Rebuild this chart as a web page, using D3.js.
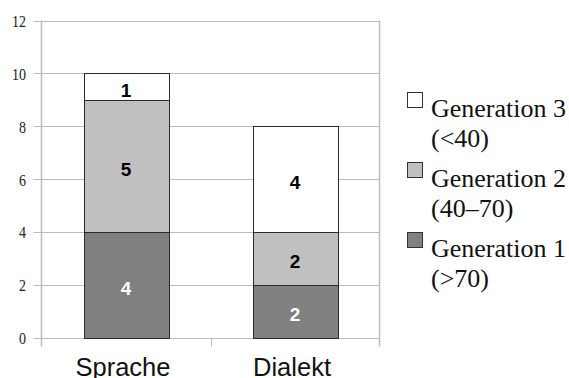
<!DOCTYPE html>
<html>
<head>
<meta charset="utf-8">
<script src="https://cdn.jsdelivr.net/npm/d3@7/dist/d3.min.js"></script>
<style>
  html, body { margin: 0; padding: 0; background: #fff; }
  svg { display: block; }
</style>
</head>
<body>
<svg id="chart" width="569" height="378"></svg>
<script>
// Categories and stacked values per generation
const categories = ["Sprache", "Dialekt"];
const gen1 = [4, 2];   // Generation 1 (>70)
const gen2 = [5, 2];   // Generation 2 (40–70)
const gen3 = [1, 4];   // Generation 3 (<40)
const yTicks = [0, 2, 4, 6, 8, 10, 12];

const seriesNames = ["Generation 1", "Generation 2", "Generation 3"];
const seriesSub = ["(>70)", "(40–70)", "(<40)"];
const fills = ["#808080", "#c0c0c0", "#ffffff"];
const labelColors = ["#ffffff", "#000000", "#000000"];

const svg = d3.select("#chart");
const plotL = 41.5, plotR = 379.5, plotT = 20.5, plotB = 337.5;

const x = d3.scaleBand().domain(categories).range([plotL, plotR]).paddingInner(0).paddingOuter(0);
const y = d3.scaleLinear().domain([0, 12]).range([plotB, plotT]);

// Horizontal grid lines
svg.append("g").selectAll("line").data(yTicks).join("line")
  .attr("x1", plotL - 8).attr("x2", plotR)
  .attr("y1", d => Math.round(y(d)) + 0.5).attr("y2", d => Math.round(y(d)) + 0.5)
  .attr("stroke", "#bdbdbd").attr("stroke-width", 1);

// Left axis line and right frame
svg.append("line").attr("x1", plotL).attr("x2", plotL).attr("y1", plotT).attr("y2", plotB + 9)
  .attr("stroke", "#bdbdbd").attr("stroke-width", 1.5);
svg.append("line").attr("x1", plotR).attr("x2", plotR).attr("y1", plotT).attr("y2", plotB + 9)
  .attr("stroke", "#bdbdbd").attr("stroke-width", 1.5);
// Category separator ticks
svg.append("g").selectAll("line").data(categories.slice(1)).join("line")
  .attr("x1", d => Math.round(x(d)) + 0.5).attr("x2", d => Math.round(x(d)) + 0.5)
  .attr("y1", plotB).attr("y2", plotB + 9).attr("stroke", "#bdbdbd");

// Y tick labels (narrow serif digits)
svg.append("g").selectAll("text").data(yTicks).join("text")
  .attr("x", 26).attr("y", d => y(d) + 6.5)
  .attr("text-anchor", "end")
  .attr("font-family", "'Liberation Serif', 'Times New Roman', serif")
  .attr("font-size", 17).attr("fill", "#222")
  .attr("textLength", d => String(d).length * 7)
  .attr("lengthAdjust", "spacingAndGlyphs")
  .text(d => d);

// Stacked data
const rows = categories.map((c, i) => ({ cat: c, g1: gen1[i], g2: gen2[i], g3: gen3[i] }));
const stack = d3.stack().keys(["g1", "g2", "g3"])(rows);

const barW = 85;
const gBars = svg.append("g");
stack.forEach((layer, li) => {
  layer.forEach(seg => {
    const cx = x(seg.data.cat) + x.bandwidth() / 2;
    const x0 = Math.round(cx - barW / 2) + 0.5;
    const y0 = Math.round(y(seg[1])) + 0.5;
    const y1 = Math.round(y(seg[0])) + 0.5;
    gBars.append("rect")
      .attr("x", x0).attr("y", y0)
      .attr("width", barW).attr("height", y1 - y0)
      .attr("fill", fills[li]).attr("stroke", "#2a2a2a").attr("stroke-width", 1);
    gBars.append("text")
      .attr("x", cx).attr("y", (y(seg[0]) + y(seg[1])) / 2 + 10)
      .attr("text-anchor", "middle")
      .attr("font-family", "'Liberation Sans', Arial, sans-serif")
      .attr("font-weight", "bold").attr("font-size", 19)
      .attr("fill", labelColors[li])
      .text(seg[1] - seg[0]);
  });
});

// Category labels
svg.append("g").selectAll("text").data(categories).join("text")
  .attr("x", d => x(d) + x.bandwidth() / 2 - 3).attr("y", 376)
  .attr("text-anchor", "middle")
  .attr("font-family", "'Liberation Sans', Arial, sans-serif")
  .attr("font-size", 25.5).attr("fill", "#111")
  .text(d => d);

// Legend (top to bottom: Generation 3, 2, 1)
const legendOrder = [2, 1, 0];
const lg = svg.append("g");
legendOrder.forEach((si, k) => {
  const ty = 92 + k * 70;
  lg.append("rect").attr("x", 407.5).attr("y", ty + 0.5).attr("width", 15).attr("height", 15)
    .attr("fill", fills[si]).attr("stroke", "#333").attr("stroke-width", 1);
  lg.append("text").attr("x", 431).attr("y", ty + 25)
    .attr("font-family", "'Liberation Serif', 'Times New Roman', serif")
    .attr("font-size", 26).attr("fill", "#111")
    .text(seriesNames[si]);
  lg.append("text").attr("x", 431).attr("y", ty + 55)
    .attr("font-family", "'Liberation Serif', 'Times New Roman', serif")
    .attr("font-size", 26).attr("fill", "#111")
    .text(seriesSub[si]);
});
</script>
</body>
</html>
